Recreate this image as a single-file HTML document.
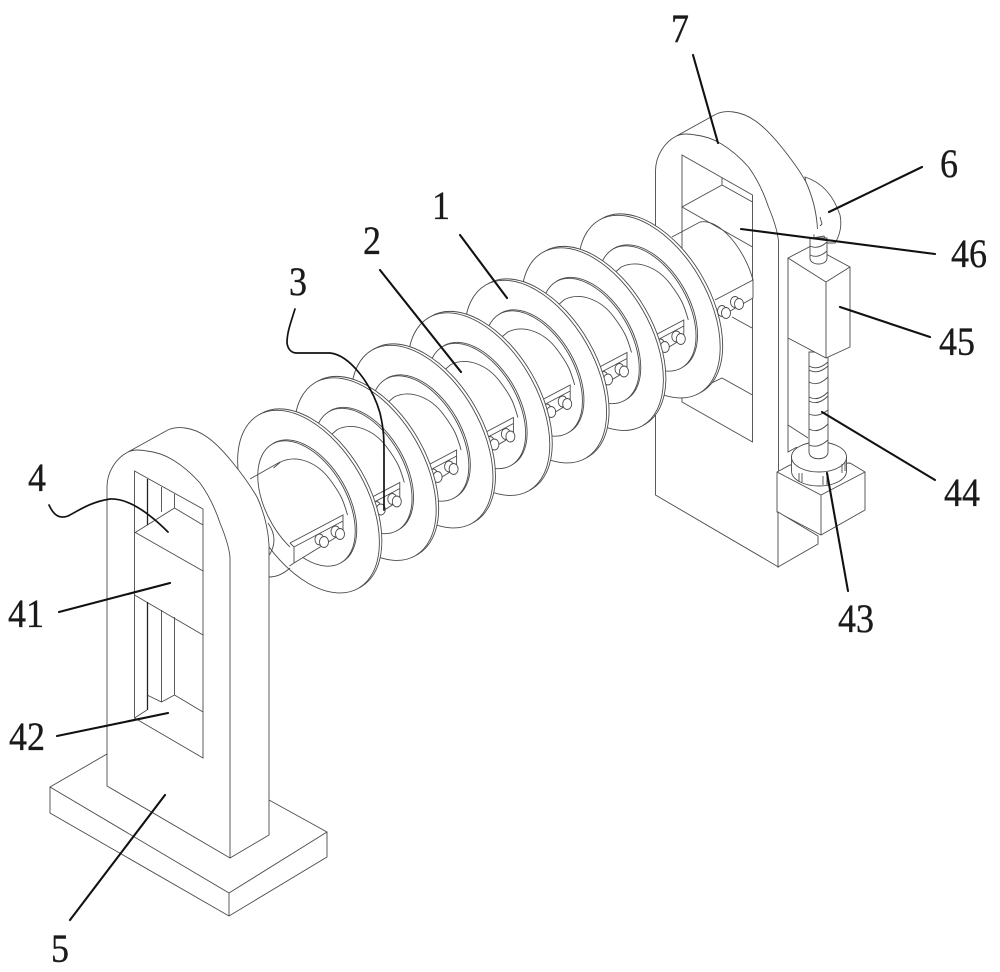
<!DOCTYPE html>
<html>
<head>
<meta charset="utf-8">
<style>
html,body{margin:0;padding:0;background:#fff;width:1000px;height:972px;overflow:hidden}
svg{display:block}
.l{fill:none;stroke:#4a4a4a;stroke-width:.9}
.w{fill:#fff;stroke:#4a4a4a;stroke-width:.9}
.f{fill:#fff;stroke:none}
.k{fill:none;stroke:#111;stroke-width:2.1;stroke-linecap:round}
text{font-family:"Liberation Serif",serif;font-size:40px;fill:#1a1a1a;stroke:#1a1a1a;stroke-width:.35;text-anchor:middle}
</style>
</head>
<body>
<svg width="1000" height="972" viewBox="0 0 1000 972" xmlns="http://www.w3.org/2000/svg">
<defs>
<g id="disc">
  <ellipse class="w" cx="1.5" cy="-.8" rx="100" ry="58" transform="rotate(60 1.5 -.8)"/>
  <ellipse class="w" cx="-1" cy=".6" rx="100" ry="58" transform="rotate(60 -1 .6)"/>
  <ellipse class="w" cx="-1.5" cy="1.5" rx="68.6" ry="40" transform="rotate(60 -1.5 1.5)"/>
  <ellipse class="w" cx="-3" cy="2.5" rx="68.6" ry="40" transform="rotate(60 -3 2.5)"/>
  <path class="l" d="M-36 -33 L-29 -39 C-12 -47 8 -38 20 -22 S34 0 38 14"/>
  <path class="f" d="M-19.5 42 L33.5 14 L33.5 32 L-15.5 62 L-20 65 Z"/>
  <path class="l" d="M-19.5 42 L33.5 14 L33.5 32 L-15.5 62 L-20 65 M-19.5 42 L-15.5 46 L33.5 20 M-15.5 46 L-15.5 62"/>
  <ellipse class="w" cx="10" cy="38.5" rx="4.5" ry="5.5"/>
  <ellipse class="w" cx="14.5" cy="41" rx="4.5" ry="5.5"/>
  <ellipse class="w" cx="26" cy="30.5" rx="4.5" ry="5.5"/>
  <ellipse class="w" cx="30.5" cy="33" rx="4.5" ry="5.5"/>
</g>
<path id="backArch" d="M128 452 L166 431 C171 428 178 427 185 428 C193 429 200 432 207 437 C217 444 225 453 233 463 C242 474 250 485 257 497 C263 510 268 527 269 545"/>
<path id="frontArch" d="M107 487 C107 472 116 458 128 452 C134 449 141 450 147 451 C156 452 165 455 173 460 C183 466 192 474 200 483 C208 494 215 508 220 523 C225 535 229 547 230 557"/>
</defs>
<rect width="1000" height="972" fill="#fff"/>

<!-- motor behind right post -->
<path class="w" d="M805 177 Q830 185 840 215 Q843 230 835 243 L815 243 Z"/>

<!-- right post -->
<g transform="translate(548.5 -316)">
  <path class="f" d="M128 452 L166 431 C171 428 178 427 185 428 C193 429 200 432 207 437 C217 444 225 453 233 463 C242 474 250 485 257 497 C263 510 268 527 269 545 L230 600 Z"/>
  <use href="#backArch" class="l"/>
  <path class="w" d="M107 811 L107 487 C107 472 116 458 128 452 C134 449 141 450 147 451 C156 452 165 455 173 460 C183 466 192 474 200 483 C208 494 215 508 220 523 C225 535 229 547 230 557 L230 883 Z"/>
</g>
<path class="w" d="M682 155 L752.5 195 L752.5 442 L682 402 Z"/>
<path class="l" d="M722 178 L722 185 M682 207 L722 185 L752.5 202 M682 207 L752.5 247"/>
<path class="l" d="M682 397 L722 378 L752.5 395"/>
<path class="l" d="M820 217 L822 224 L820 226 M813 238 L824 236 L825 239"/>

<!-- right side rail, base, collar -->
<path class="l" d="M788 338 L788 452 L797 447 M788 425 L808 438"/>
<path class="w" d="M777 472 L790 465 L850 463 L865 472 L865 510 L821 535 L777 512 Z"/>
<path class="l" d="M777 472 L821 495 L865 472 M821 495 L821 535"/>
<path class="w" d="M778 512 L818 536 L818 544 L778 567 Z"/>
<path class="w" d="M791.5 457 L791.5 471 C791.5 480 805 486 819 486 C833 486 846.5 480 846.5 471 L846.5 457 Z"/>
<ellipse class="w" cx="819" cy="457" rx="27.5" ry="15"/>
<path class="l" d="M799 473 V482 M802 473 V482 M823 476 V485 M827 476 V485 M842 464 V473 M845 462 V471"/>

<!-- screw -->
<path class="w" d="M809 352 L809 452 C809 461 828 461 828 452 L828 352 Z"/>
<path class="l" d="M809 366 Q818 371 828 362 M809 370 Q818 375 828 366 M809 382 Q818 387 828 377 M809 397 Q818 402 828 392 M809 401 Q818 406 828 396 M809 414 Q818 418 828 410 M809 429 Q818 434 828 424 M809 445 Q818 449 828 440"/>

<!-- box 45 -->
<path class="w" d="M788 258 L811 246 L850 267 L850 347 L826 358 L788 338 Z"/>
<path class="l" d="M788 258 L826 282 L850 267 M826 282 L826 358"/>
<path class="w" d="M810 238 L810 258 C810 266 827 266 827 258 L827 238 Z"/>
<path class="l" d="M810 246 Q818 250 827 242 M810 255 Q818 259 827 251"/>

<!-- discs back to front -->
<path class="l" d="M672 237 L700 222 C720 218 745 250 753 280"/>
<path class="f" d="M715 300 L753 280 L753 298 L725 314 Z"/>
<path class="l" d="M715 300 L753 280 L753 298 L725 314"/>
<path class="l" d="M732 317 L752 328"/>
<ellipse class="w" cx="735" cy="302" rx="4.5" ry="5.5"/>
<ellipse class="w" cx="739" cy="304" rx="4.5" ry="5.5"/>
<ellipse class="w" cx="722" cy="311" rx="4.5" ry="5.5"/>
<ellipse class="w" cx="726" cy="313" rx="4.5" ry="5.5"/>
<use href="#disc" x="650.3" y="306"/>
<use href="#disc" x="593.5" y="338.5"/>
<use href="#disc" x="536.7" y="371"/>
<use href="#disc" x="479.9" y="403.5"/>
<use href="#disc" x="423.1" y="436"/>
<use href="#disc" x="366.3" y="468.5"/>
<use href="#disc" x="309.5" y="501"/>
<path class="l" d="M250 479 L280 462"/>
<path class="l" d="M268 523 Q280 540 268 557"/>
<path class="l" d="M269 577 Q280 577 290 568"/>

<!-- base plate -->
<path class="w" d="M50 787 L107 754 L269 800 L327 832 L327 857 L229 916 L50 813 Z"/>
<path class="l" d="M50 787 L229 893 L327 832 M229 893 L229 916"/>

<!-- left post -->
<path class="f" d="M128 452 L166 431 C171 428 178 427 185 428 C193 429 200 432 207 437 C217 444 225 453 233 463 C242 474 250 485 257 497 C263 510 268 527 269 545 L269 835 L230 858 Z"/>
<path class="l" d="M128 452 L166 431 C171 428 178 427 185 428 C193 429 200 432 207 437 C217 444 225 453 233 463 C242 474 250 485 257 497 C263 510 268 527 269 545 L269 835 L230 858"/>
<path class="w" d="M107 786 L107 487 C107 472 116 458 128 452 C134 449 141 450 147 451 C156 452 165 455 173 460 C183 466 192 474 200 483 C208 494 215 508 220 523 C225 535 229 547 230 557 L230 858 Z"/>
<path class="w" d="M134.5 471 L203 509 L203 758 L134.5 718 Z"/>
<path class="l" d="M161.5 487 L161.5 512 M174.5 494 L174.5 508 M134.5 533 L174.5 508 L203 525 M134.5 532 L203 571 M134.5 595 L203 635"/>
<path class="l" d="M161.5 610 L161.5 702 M174.5 617 L174.5 695 M147 695 L161.5 702 L174.5 695 L203 712 M134.5 718 L147 710"/>
<path d="M147.5 479 V525 M147.5 602 V710" fill="none" stroke="#222" stroke-width="1.3"/>

<!-- leaders -->
<path class="k" d="M693 55 L718 143"/>
<path class="k" d="M829 212 L922 167"/>
<path class="k" d="M741 229 L935 254"/>
<path class="k" d="M840 307 L930 337"/>
<path class="k" d="M822 412 L935 480"/>
<path class="k" d="M827 473 L848 591"/>
<path class="k" d="M460 235 L507 298"/>
<path class="k" d="M380 270 L461 372"/>
<path class="k" style="stroke-width:1.7" d="M295 309 C291 322 287 332 287 343 C288 350 292 353 297 353 L330 353 C350 355 372 385 380 413 C384 430 384 440 384 453 L384 510"/>
<path class="k" style="stroke-width:1.7" d="M49 505 C54 516 60 519 68 516 C78 511 90 502 110 499 C130 498 152 516 168 532"/>
<path class="k" d="M59 612 L170 583"/>
<path class="k" d="M57 736 L168 713"/>
<path class="k" d="M70 920 L165 795"/>

<!-- labels -->
<text x="680" y="42" textLength="18" lengthAdjust="spacingAndGlyphs">7</text>
<text x="949" y="177" textLength="18" lengthAdjust="spacingAndGlyphs">6</text>
<text x="969" y="267" textLength="36" lengthAdjust="spacingAndGlyphs">46</text>
<text x="957" y="355" textLength="36" lengthAdjust="spacingAndGlyphs">45</text>
<text x="962" y="506" textLength="36" lengthAdjust="spacingAndGlyphs">44</text>
<text x="856" y="632" textLength="36" lengthAdjust="spacingAndGlyphs">43</text>
<text x="441" y="219" textLength="18" lengthAdjust="spacingAndGlyphs">1</text>
<text x="372" y="254" textLength="18" lengthAdjust="spacingAndGlyphs">2</text>
<text x="298" y="295" textLength="18" lengthAdjust="spacingAndGlyphs">3</text>
<text x="37" y="491" textLength="18" lengthAdjust="spacingAndGlyphs">4</text>
<text x="26" y="627" textLength="36" lengthAdjust="spacingAndGlyphs">41</text>
<text x="27" y="750" textLength="36" lengthAdjust="spacingAndGlyphs">42</text>
<text x="60" y="962" textLength="18" lengthAdjust="spacingAndGlyphs">5</text>
</svg>
</body>
</html>
